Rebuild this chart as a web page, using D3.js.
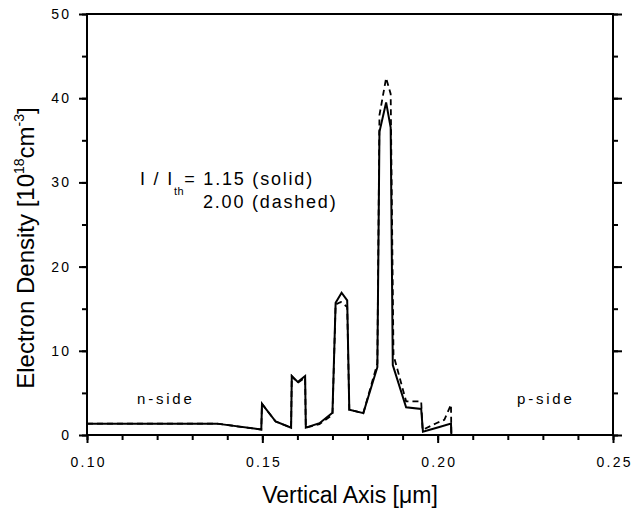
<!DOCTYPE html>
<html>
<head>
<meta charset="utf-8">
<script src="https://cdn.jsdelivr.net/npm/d3@7"></script>
<style>
  body { margin: 0; background: #fff; }
  text { font-family: Arial, "Liberation Sans", sans-serif; fill: #000; }
</style>
</head>
<body>
<div id="chart"></div>
<script>
// position along vertical axis (um) and electron density (1e18 cm^-3)
const solidX = [0.100, 0.137, 0.1497, 0.1499, 0.1538, 0.1582, 0.1584, 0.1601, 0.1622, 0.1624, 0.1663, 0.1700, 0.1709, 0.1726, 0.1742, 0.1748, 0.1788, 0.1828, 0.1834, 0.1853, 0.1866, 0.1872, 0.1910, 0.1953, 0.1958, 0.2005, 0.2038, 0.2039, 0.25];
const solidY = [1.35, 1.35, 0.65, 3.7, 1.6, 0.87, 7.0, 6.3, 7.0, 0.87, 1.4, 2.65, 15.7, 16.9, 16.0, 3.0, 2.6, 8.05, 36.0, 39.5, 36.5, 8.3, 3.3, 3.1, 0.4, 0.95, 1.35, 0, 0];
const dashedX = [0.100, 0.137, 0.1497, 0.1499, 0.1538, 0.1582, 0.1584, 0.1601, 0.1622, 0.1624, 0.1663, 0.1700, 0.1709, 0.1724, 0.1742, 0.1748, 0.1788, 0.1828, 0.1834, 0.1853, 0.1866, 0.1874, 0.1910, 0.1953, 0.1957, 0.1996, 0.2019, 0.2038, 0.2039, 0.25];
const dashedY = [1.35, 1.35, 0.65, 3.7, 1.6, 0.87, 7.0, 6.2, 6.8, 0.87, 1.3, 2.4, 15.5, 15.8, 15.2, 3.0, 2.6, 8.5, 38.0, 42.4, 40.5, 9.5, 4.0, 4.0, 0.6, 1.4, 1.8, 3.6, 0, 0];

const xTicks = [0.10, 0.15, 0.20, 0.25];
const yTicks = [0, 10, 20, 30, 40, 50];

const width = 631;
const height = 512;
const margin = { top: 14, left: 87, bottom: 77, right: 18 };
const iwidth = width - margin.left - margin.right;
const iheight = height - margin.top - margin.bottom;

const svg = d3.select("#chart").append("svg")
  .attr("width", width)
  .attr("height", height);

const g = svg.append("g")
  .attr("transform", `translate(${margin.left},${margin.top})`);

const x = d3.scaleLinear().domain([0.10, 0.25]).range([0, iwidth]);
const y = d3.scaleLinear().domain([0, 50]).range([iheight, 0]);

const line = d3.line().x((d) => x(d[0])).y((d) => y(d[1]));

g.append("path")
  .datum(dashedX.map((v, i) => [v, dashedY[i]]))
  .attr("d", line)
  .attr("fill", "none")
  .attr("stroke", "#000")
  .attr("stroke-width", 1.8)
  .attr("stroke-dasharray", "6,4")
  .attr("stroke-linejoin", "miter");

g.append("path")
  .datum(solidX.map((v, i) => [v, solidY[i]]))
  .attr("d", line)
  .attr("fill", "none")
  .attr("stroke", "#000")
  .attr("stroke-width", 2)
  .attr("stroke-linejoin", "miter");

// axes: ticks point outward on all sides except top
const minorX = d3.range(0.10, 0.2501, 0.01);
const minorY = d3.range(0, 50.01, 5);

function styleAxis(sel) {
  sel.select(".domain").remove();
  sel.selectAll("line").attr("stroke", "#000").attr("stroke-width", 2);
  sel.selectAll("text")
    .style("font-size", "14px")
    .style("letter-spacing", "2.2px");
}

g.append("g").attr("transform", `translate(0,${iheight})`)
  .call(d3.axisBottom(x).tickValues(minorX).tickSize(5).tickFormat(""))
  .call(styleAxis);
g.append("g").attr("transform", `translate(0,${iheight})`)
  .call(d3.axisBottom(x).tickValues(xTicks).tickSize(8).tickPadding(14).tickFormat(d3.format(".2f")))
  .call(styleAxis)
  .selectAll("text").attr("dx", "1.1px");

g.append("g")
  .call(d3.axisLeft(y).tickValues(minorY).tickSize(5).tickFormat(""))
  .call(styleAxis);
g.append("g")
  .call(d3.axisLeft(y).tickValues(yTicks).tickSize(8).tickPadding(10).tickFormat(d3.format("d")))
  .call(styleAxis)
  .selectAll("text").attr("dx", "2.2px");

g.append("g").attr("transform", `translate(${iwidth},0)`)
  .call(d3.axisRight(y).tickValues(minorY).tickSize(5).tickFormat(""))
  .call(styleAxis);
g.append("g").attr("transform", `translate(${iwidth},0)`)
  .call(d3.axisRight(y).tickValues(yTicks).tickSize(9).tickFormat(""))
  .call(styleAxis);

// frame
g.append("rect")
  .attr("width", iwidth)
  .attr("height", iheight)
  .attr("fill", "none")
  .attr("stroke", "#000")
  .attr("stroke-width", 2);

// axis titles
svg.append("text")
  .attr("x", 350)
  .attr("y", 503)
  .attr("text-anchor", "middle")
  .style("font-size", "23px")
  .text("Vertical Axis [\u03bcm]");

const yl = svg.append("text")
  .attr("transform", "translate(34,248) rotate(-90)")
  .attr("text-anchor", "middle")
  .style("font-size", "24px");
yl.append("tspan").text("Electron Density [10");
yl.append("tspan").attr("dy", -10).style("font-size", "14px").text("18");
yl.append("tspan").attr("dy", 10).text("cm");
yl.append("tspan").attr("dy", -10).style("font-size", "14px").text("-3");
yl.append("tspan").attr("dy", 10).text("]");

// annotations
const ann = svg.append("text")
  .attr("x", 140)
  .attr("y", 185)
  .style("font-size", "18px")
  .style("letter-spacing", "1.8px");
ann.append("tspan").text("I / I");
ann.append("tspan").attr("dy", 10).style("font-size", "11px").style("letter-spacing", "0.5px").text("th");
ann.append("tspan").attr("dy", -10).text("= 1.15 (solid)");

svg.append("text")
  .attr("x", 203)
  .attr("y", 208)
  .style("font-size", "18px")
  .style("letter-spacing", "1.8px")
  .text("2.00 (dashed)");

svg.append("text")
  .attr("x", 137)
  .attr("y", 404)
  .style("font-size", "15px")
  .style("letter-spacing", "2.8px")
  .text("n-side");

svg.append("text")
  .attr("x", 517)
  .attr("y", 404)
  .style("font-size", "15px")
  .style("letter-spacing", "2.8px")
  .text("p-side");
</script>
</body>
</html>
